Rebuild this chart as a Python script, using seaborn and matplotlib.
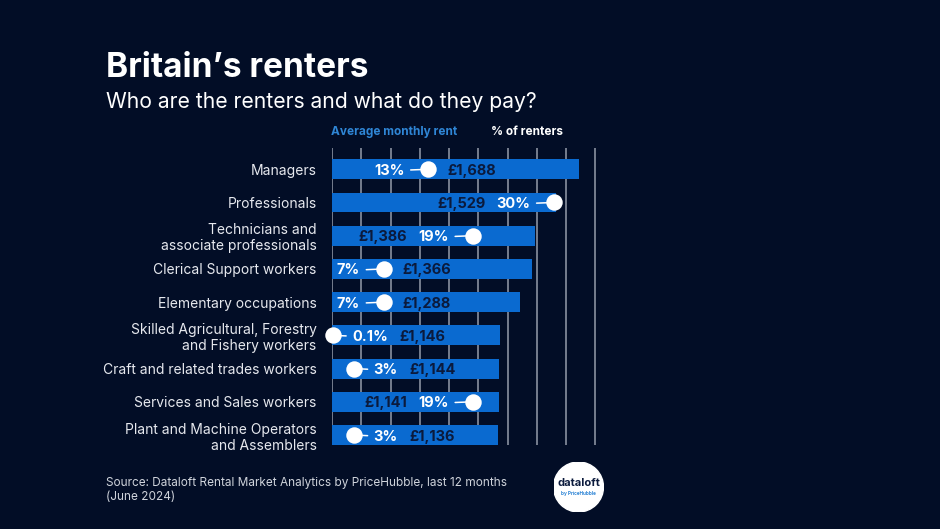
import matplotlib
matplotlib.use("Agg")
import matplotlib.pyplot as plt
from matplotlib.patches import Circle
import seaborn as sns
import pandas as pd

# data
occupations = ["Managers", "Professionals", "Technicians and\nassociate professionals",
               "Clerical Support workers", "Elementary occupations",
               "Skilled Agricultural, Forestry\nand Fishery workers",
               "Craft and related trades workers", "Services and Sales workers",
               "Plant and Machine Operators\nand Assemblers"]
avg_rent = [1688, 1529, 1386, 1366, 1288, 1146, 1144, 1141, 1136]
pct_renters = [13, 30, 19, 7, 7, 0.1, 3, 19, 3]
pct_labels = ["13%", "30%", "19%", "7%", "7%", "0.1%", "3%", "19%", "3%"]
rent_ticks = list(range(0, 2000, 200))

BG = "#020d26"
BAR = "#0a6ad0"
GRID = "#7f8696"
NAVY = "#0b1a3c"
LIGHT = "#e6e8ee"
BLUE_TXT = "#2f86d6"

sns.set_theme(style="dark")
plt.rcParams["font.family"] = ["Inter", "DejaVu Sans"]

df = pd.DataFrame({"occupation": occupations, "rent": avg_rent, "pct": pct_renters})

fig = plt.figure(figsize=(9.4, 5.29), dpi=100, facecolor=BG)
ax = fig.add_axes([0.3532, 0.1588, 0.2833, 0.5614])
ax.set_facecolor(BG)
sns.barplot(data=df, x="rent", y="occupation", color=BAR, saturation=1, width=0.6,
            linewidth=0, ax=ax)
ax.set_xlim(0, 1820)
ax.set_ylim(8.3, -0.64)
ax.set_xticks(rent_ticks)
ax.grid(axis="x", color=GRID, lw=1.3)
ax.grid(axis="y", visible=False)
ax.set_axisbelow(True)
ax.tick_params(axis="x", length=0, labelbottom=False)
ax.tick_params(axis="y", length=0, pad=11, labelsize=10, labelcolor=LIGHT)
ax.set_xlabel("")
ax.set_ylabel("")
for s in ax.spines.values():
    s.set_visible(False)

# second scale for % of renters
ax2 = ax.twiny()
ax2.set_xlim(0, 1820 / 50.6)
ax2.set_ylim(8.3, -0.64)
ax2.axis("off")
ax2.scatter(df["pct"], df.index, s=140, color="white", zorder=5, clip_on=False, linewidths=0)

for i, row in df.iterrows():
    p = row["pct"]
    rent_txt = f"£{row['rent']:,}"
    left = p >= 5
    pct_ann = ax2.annotate(pct_labels[i], xy=(p, i), xytext=(-17 if left else 14, 0),
                           textcoords="offset points", ha="right" if left else "left",
                           va="center_baseline", color="white", fontsize=10.5,
                           fontweight="bold", zorder=4,
                           arrowprops=dict(arrowstyle="-", color="white", lw=1.1,
                                           shrinkA=2, shrinkB=0))
    if p >= 15:
        ax2.annotate(rent_txt, xy=(0, 0.5), xycoords=pct_ann, xytext=(-8, 0),
                     textcoords="offset points", ha="right", va="center",
                     color=NAVY, fontsize=10.5, fontweight="bold")
    elif left:
        ax2.annotate(rent_txt, xy=(p, i), xytext=(13.5, 0), textcoords="offset points",
                     ha="left", va="center_baseline", color=NAVY, fontsize=10.5,
                     fontweight="bold")
    else:
        ax2.annotate(rent_txt, xy=(1, 0.5), xycoords=pct_ann, xytext=(8.5, 0),
                     textcoords="offset points", ha="left", va="center",
                     color=NAVY, fontsize=10.5, fontweight="bold")

# titles and headers
fig.text(106 / 940, 1 - 77 / 529, "Britain’s renters", fontsize=24, fontweight="bold",
         color="white", va="baseline")
fig.text(106 / 940, 1 - 108 / 529, "Who are the renters and what do they pay?",
         fontsize=15.2, color="white", va="baseline")
fig.text(331 / 940, 1 - 132 / 529, "Average monthly rent", fontsize=8.5,
         fontweight="bold", color=BLUE_TXT, va="center")
fig.text(491 / 940, 1 - 132 / 529, "% of renters", fontsize=8.5,
         fontweight="bold", color="white", va="center")
fig.text(106 / 940, 1 - 477 / 529,
         "Source: Dataloft Rental Market Analytics by PriceHubble, last 12 months\n(June 2024)",
         fontsize=8.5, color="#d0d4dc", va="top", linespacing=1.2)

# logo badge
logo = fig.add_axes([(578.5 - 25) / 940, 1 - (487 + 25) / 529, 50 / 940, 50 / 529])
logo.axis("off")
logo.set_xlim(0, 1)
logo.set_ylim(0, 1)
logo.add_patch(Circle((0.5, 0.5), 0.5, color="white", transform=logo.transAxes))
logo.text(0.5, 0.58, "dataloft", ha="center", va="center", fontsize=8,
          fontweight="bold", color=NAVY)
logo.text(0.5, 0.37, "by PriceHubble", ha="center", va="center", fontsize=3.4,
          fontweight="bold", color=BLUE_TXT)

fig.savefig("out.png", dpi=100, facecolor=BG)
